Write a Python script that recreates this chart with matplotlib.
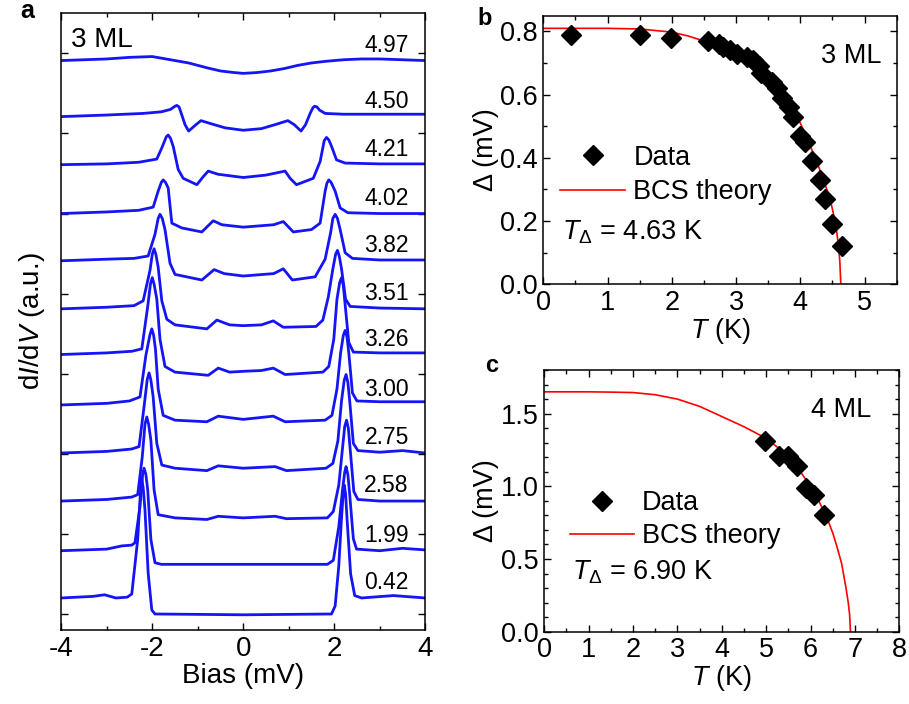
import numpy as np
import matplotlib
matplotlib.use("Agg")
import matplotlib.pyplot as plt
from matplotlib.ticker import MultipleLocator

plt.rcParams['font.family'] = ['Liberation Sans', 'DejaVu Sans']
plt.rcParams['mathtext.fontset'] = 'custom'
plt.rcParams['mathtext.rm'] = 'Liberation Sans'
plt.rcParams['mathtext.it'] = 'Liberation Sans:italic'
plt.rcParams['mathtext.bf'] = 'Liberation Sans:bold'
plt.rcParams['axes.linewidth'] = 1.1
plt.rcParams['axes.unicode_minus'] = False

# ---- panel a: dI/dV spectra of 3 ML (values relative to each curve's left baseline) ----
temps_3ml = ['4.97', '4.50', '4.21', '4.02', '3.82', '3.51', '3.26', '3.00', '2.75', '2.58', '1.99', '0.42']
offsets = [6.91, 6.21, 5.61, 5.00, 4.41, 3.81, 3.24, 2.61, 2.01, 1.41, 0.79, 0.20]

bias_497 = [-4.0, -3.5, -3.0, -2.5, -2.0, -1.5, -1.2, -0.8, -0.5, -0.2, 0.0, 0.3, 0.6, 0.9, 1.2, 1.5, 1.8, 2.2, 2.6, 3.0, 3.5, 4.0]
didv_497 = [0.0, 0.01, 0.02, 0.04, 0.05, 0.0, -0.03, -0.09, -0.13, -0.15, -0.16, -0.15, -0.13, -0.10, -0.06, -0.03, -0.01, 0.01, 0.02, 0.02, 0.01, 0.0]

bias_450 = [-4.0, -3.0, -2.2, -1.8, -1.6, -1.5, -1.46, -1.41, -1.35, -1.28, -1.2, -1.08, -0.93, -0.7, -0.4, 0.0, 0.4, 0.7, 0.98, 1.12, 1.27, 1.37, 1.47, 1.53, 1.57, 1.62, 1.68, 1.8, 2.2, 3.0, 4.0]
didv_450 = [0.0, 0.02, 0.04, 0.06, 0.09, 0.13, 0.14, 0.12, 0.02, -0.10, -0.18, -0.12, -0.05, -0.09, -0.14, -0.17, -0.15, -0.10, -0.05, -0.10, -0.18, -0.10, 0.04, 0.11, 0.13, 0.12, 0.08, 0.04, 0.03, 0.03, 0.03]

bias_421 = [-4.0, -3.0, -2.3, -1.9, -1.79, -1.69, -1.65, -1.6, -1.54, -1.43, -1.32, -1.02, -0.88, -0.77, -0.55, 0.0, 0.5, 0.92, 1.03, 1.17, 1.54, 1.69, 1.78, 1.83, 1.88, 1.94, 2.05, 2.24, 3.0, 4.0]
didv_421 = [0.0, 0.01, 0.03, 0.07, 0.21, 0.35, 0.37, 0.33, 0.23, -0.06, -0.17, -0.25, -0.15, -0.08, -0.12, -0.16, -0.13, -0.08, -0.17, -0.25, -0.17, 0.04, 0.30, 0.34, 0.31, 0.23, 0.06, 0.02, 0.01, 0.01]

bias_402 = [-4.0, -3.0, -2.3, -1.98, -1.87, -1.8, -1.76, -1.71, -1.65, -1.57, -1.35, -0.91, -0.66, -0.47, 0.0, 0.67, 0.88, 1.1, 1.5, 1.69, 1.8, 1.84, 1.88, 1.93, 2.02, 2.13, 2.3, 3.0, 4.0]
didv_402 = [0.0, 0.02, 0.04, 0.08, 0.28, 0.39, 0.42, 0.39, 0.32, -0.12, -0.18, -0.23, -0.09, -0.14, -0.17, -0.14, -0.10, -0.23, -0.20, -0.12, 0.28, 0.38, 0.42, 0.39, 0.28, 0.07, 0.01, 0.0, 0.0]

bias_382 = [-4.0, -3.0, -2.4, -2.09, -1.94, -1.87, -1.83, -1.78, -1.72, -1.61, -1.5, -0.91, -0.64, -0.42, 0.0, 0.67, 0.88, 1.08, 1.58, 1.8, 1.92, 1.97, 2.02, 2.07, 2.13, 2.24, 2.4, 3.0, 4.0]
didv_382 = [0.0, 0.02, 0.03, 0.06, 0.33, 0.53, 0.58, 0.53, 0.39, -0.03, -0.17, -0.24, -0.11, -0.16, -0.19, -0.16, -0.10, -0.24, -0.20, 0.02, 0.35, 0.53, 0.58, 0.53, 0.39, 0.10, 0.03, 0.01, 0.01]

bias_351 = [-4.0, -3.0, -2.4, -2.2, -2.05, -2.0, -1.96, -1.92, -1.87, -1.79, -1.68, -1.5, -0.8, -0.58, -0.3, 0.0, 0.4, 0.66, 0.88, 1.6, 1.75, 1.87, 1.97, 2.03, 2.07, 2.11, 2.16, 2.25, 2.35, 3.0, 4.0]
didv_351 = [0.0, 0.02, 0.04, 0.10, 0.48, 0.68, 0.75, 0.68, 0.52, 0.10, -0.13, -0.20, -0.25, -0.14, -0.20, -0.21, -0.20, -0.15, -0.23, -0.22, -0.14, 0.15, 0.50, 0.68, 0.73, 0.66, 0.50, 0.12, 0.03, 0.01, 0.0]

bias_326 = [-4.0, -3.0, -2.45, -2.23, -2.1, -2.04, -2.0, -1.96, -1.9, -1.83, -1.72, -1.5, -0.77, -0.55, -0.3, 0.0, 0.4, 0.66, 0.92, 1.75, 1.88, 1.99, 2.06, 2.12, 2.16, 2.2, 2.24, 2.32, 2.42, 3.0, 4.0]
didv_326 = [0.0, 0.02, 0.04, 0.07, 0.60, 0.88, 0.96, 0.88, 0.69, 0.19, -0.15, -0.22, -0.26, -0.17, -0.22, -0.21, -0.20, -0.17, -0.25, -0.22, -0.15, 0.19, 0.69, 0.90, 0.96, 0.86, 0.62, 0.15, 0.03, 0.02, 0.02]

bias_300 = [-4.0, -3.0, -2.5, -2.27, -2.14, -2.05, -2.01, -1.97, -1.93, -1.87, -1.76, -1.5, -0.8, -0.55, 0.0, 0.66, 0.92, 1.8, 1.95, 2.06, 2.14, 2.2, 2.24, 2.28, 2.32, 2.4, 2.5, 3.0, 4.0]
didv_300 = [0.0, 0.02, 0.05, 0.10, 0.62, 0.88, 0.95, 0.87, 0.70, 0.20, -0.13, -0.19, -0.21, -0.14, -0.18, -0.14, -0.21, -0.19, -0.13, 0.20, 0.65, 0.87, 0.93, 0.85, 0.65, 0.15, 0.05, 0.04, 0.04]

bias_275 = [-4.0, -3.0, -2.45, -2.29, -2.18, -2.11, -2.07, -2.03, -1.98, -1.9, -1.79, -1.5, -0.8, -0.55, 0.0, 0.7, 0.95, 1.82, 1.97, 2.08, 2.16, 2.22, 2.26, 2.3, 2.34, 2.42, 2.52, 3.0, 3.5, 4.0]
didv_275 = [0.0, 0.02, 0.05, 0.08, 0.58, 0.92, 1.00, 0.91, 0.70, 0.12, -0.15, -0.19, -0.22, -0.16, -0.19, -0.17, -0.22, -0.19, -0.13, 0.15, 0.65, 0.91, 0.98, 0.88, 0.65, 0.12, 0.03, 0.01, 0.03, 0.0]

bias_258 = [-4.0, -3.0, -2.45, -2.32, -2.22, -2.16, -2.12, -2.08, -2.03, -1.96, -1.87, -1.5, -0.8, -0.55, 0.0, 0.7, 0.95, 1.85, 1.98, 2.1, 2.18, 2.23, 2.27, 2.31, 2.35, 2.43, 2.52, 3.0, 4.0]
didv_258 = [0.0, 0.02, 0.05, 0.08, 0.55, 0.96, 1.05, 0.96, 0.76, 0.14, -0.17, -0.21, -0.23, -0.19, -0.21, -0.19, -0.22, -0.21, -0.13, 0.20, 0.65, 0.93, 1.01, 0.91, 0.65, 0.12, 0.02, 0.0, 0.0]

bias_199 = [-4.0, -3.0, -2.67, -2.45, -2.38, -2.27, -2.21, -2.18, -2.14, -2.1, -2.03, -1.94, -1.8, 0.0, 1.85, 1.98, 2.1, 2.18, 2.23, 2.26, 2.3, 2.34, 2.42, 2.49, 3.0, 3.5, 4.0]
didv_199 = [0.0, 0.02, 0.06, 0.07, 0.10, 0.55, 0.96, 1.03, 0.95, 0.76, 0.14, -0.15, -0.17, -0.17, -0.17, -0.12, 0.30, 0.75, 0.98, 1.05, 0.95, 0.70, 0.15, 0.02, 0.0, 0.03, 0.01]

bias_042 = [-4.0, -3.3, -3.05, -2.8, -2.55, -2.45, -2.32, -2.26, -2.23, -2.2, -2.16, -2.09, -2.01, -1.94, 0.0, 1.94, 2.02, 2.1, 2.16, 2.2, 2.22, 2.25, 2.28, 2.36, 2.45, 2.6, 3.3, 4.0]
didv_042 = [0.0, 0.02, 0.04, 0.0, 0.01, 0.05, 0.73, 1.32, 1.48, 1.38, 1.10, 0.31, -0.15, -0.20, -0.21, -0.20, -0.10, 0.40, 1.00, 1.33, 1.41, 1.30, 1.00, 0.30, 0.03, 0.0, 0.03, 0.0]

bias_all = [bias_497, bias_450, bias_421, bias_402, bias_382, bias_351,
            bias_326, bias_300, bias_275, bias_258, bias_199, bias_042]
didv_all = [didv_497, didv_450, didv_421, didv_402, didv_382, didv_351,
            didv_326, didv_300, didv_275, didv_258, didv_199, didv_042]

# ---- panel b: gap vs T, 3 ML ----
T_3ml = [0.43, 1.51, 1.99, 2.57, 2.73, 2.80, 2.91, 3.01, 3.17, 3.27, 3.35, 3.38,
         3.56, 3.64, 3.71, 3.82, 3.89, 4.00, 4.08, 4.18, 4.31, 4.39, 4.49, 4.65]
gap_3ml = [0.79, 0.79, 0.78, 0.77, 0.76, 0.75, 0.74, 0.73, 0.72, 0.71, 0.69, 0.67,
           0.64, 0.62, 0.59, 0.56, 0.53, 0.47, 0.45, 0.39, 0.33, 0.27, 0.19, 0.12]
T_bcs_3ml = [0.0, 0.5, 1.0, 1.5, 2.0, 2.25, 2.5, 2.75, 3.0, 3.2, 3.4, 3.55, 3.7, 3.85, 4.0, 4.1, 4.2, 4.28, 4.36, 4.43, 4.49, 4.54, 4.57, 4.6, 4.615, 4.63]
gap_bcs_3ml = [0.81, 0.81, 0.81, 0.808, 0.798, 0.786, 0.77, 0.75, 0.727, 0.70, 0.668, 0.636, 0.60, 0.557, 0.51, 0.465, 0.415, 0.375, 0.33, 0.29, 0.246, 0.20, 0.16, 0.11, 0.07, 0.0]

# ---- panel c: gap vs T, 4 ML ----
T_4ml = [4.97, 5.29, 5.50, 5.70, 5.89, 6.08, 6.30]
gap_4ml = [1.31, 1.21, 1.21, 1.14, 0.99, 0.94, 0.80]
T_bcs_4ml = [0.0, 1.0, 1.5, 2.0, 2.5, 3.0, 3.25, 3.5, 3.75, 4.0, 4.25, 4.5, 4.75, 5.0, 5.25, 5.5, 5.75, 6.0, 6.15, 6.3, 6.4, 6.5, 6.6, 6.7, 6.8, 6.85, 6.88, 6.9]
gap_bcs_4ml = [1.65, 1.65, 1.648, 1.645, 1.63, 1.60, 1.575, 1.55, 1.515, 1.48, 1.445, 1.41, 1.37, 1.33, 1.27, 1.21, 1.11, 1.00, 0.92, 0.83, 0.76, 0.68, 0.58, 0.47, 0.30, 0.20, 0.12, 0.0]

blue = '#1414F5'
fs = 19.5
fig = plt.figure(figsize=(9.09, 7.04), dpi=100)

# panel a
ax_a = fig.add_axes([0.0674, 0.1051, 0.4004, 0.876])
for bias, didv, off, lab in zip(bias_all, didv_all, offsets, temps_3ml):
    ax_a.plot(bias, np.array(didv) + off, color=blue, lw=2.0)
    ax_a.text(3.64, off + 0.19, lab, ha='right', va='center', fontsize=16.5)
ax_a.text(-3.78, 7.08, '3 ML', ha='left', va='baseline', fontsize=20)
ax_a.set_xlim(-4, 4)
ax_a.set_ylim(-0.2, 7.5)
ax_a.xaxis.set_major_locator(MultipleLocator(2))
ax_a.xaxis.set_minor_locator(MultipleLocator(1))
ax_a.yaxis.set_major_locator(MultipleLocator(1))
ax_a.tick_params(axis='y', labelleft=False)
ax_a.set_xlabel('Bias (mV)', fontsize=20, labelpad=1)
ax_a.set_ylabel(r'd$I$/d$V$ (a.u.)', fontsize=20, labelpad=10)

# panel b
ax_b = fig.add_axes([0.5977, 0.5962, 0.3888, 0.3815])
line_b, = ax_b.plot(T_bcs_3ml, gap_bcs_3ml, color='red', lw=1.2, zorder=2, label='BCS theory')
pts_b, = ax_b.plot(T_3ml, gap_3ml, 'D', color='black', ms=10, zorder=3, label='Data')
ax_b.set_xlim(0, 5.5)
ax_b.set_ylim(0, 0.85)
ax_b.xaxis.set_major_locator(MultipleLocator(1))
ax_b.xaxis.set_minor_locator(MultipleLocator(0.5))
ax_b.yaxis.set_major_locator(MultipleLocator(0.2))
ax_b.yaxis.set_minor_locator(MultipleLocator(0.1))
ax_b.set_xlabel(r'$T$ (K)', fontsize=fs, labelpad=0)
ax_b.set_ylabel('Δ (mV)', fontsize=fs, labelpad=1)
ax_b.legend([pts_b, line_b], ['Data', 'BCS theory'], loc='center left',
            bbox_to_anchor=(0.048, 0.407), frameon=False, fontsize=fs,
            handlelength=2.4, handletextpad=0.3, labelspacing=0.32,
            borderpad=0, borderaxespad=0, numpoints=1)
ax_b.text(0.052, 0.168, r'$T_\Delta$ = 4.63 K', transform=ax_b.transAxes,
          ha='left', va='baseline', fontsize=fs)
ax_b.text(0.958, 0.825, '3 ML', transform=ax_b.transAxes, ha='right', va='baseline', fontsize=fs)

# panel c
ax_c = fig.add_axes([0.5988, 0.1027, 0.3905, 0.3717])
line_c, = ax_c.plot(T_bcs_4ml, gap_bcs_4ml, color='red', lw=1.2, zorder=2, label='BCS theory')
pts_c, = ax_c.plot(T_4ml, gap_4ml, 'D', color='black', ms=10, zorder=3, label='Data')
ax_c.set_xlim(0, 8)
ax_c.set_ylim(0, 1.8)
ax_c.xaxis.set_major_locator(MultipleLocator(1))
ax_c.xaxis.set_minor_locator(MultipleLocator(0.5))
ax_c.yaxis.set_major_locator(MultipleLocator(0.5))
ax_c.yaxis.set_minor_locator(MultipleLocator(0.1))
ax_c.set_xlabel(r'$T$ (K)', fontsize=fs, labelpad=0)
ax_c.set_ylabel('Δ (mV)', fontsize=fs, labelpad=1)
ax_c.legend([pts_c, line_c], ['Data', 'BCS theory'], loc='center left',
            bbox_to_anchor=(0.072, 0.428), frameon=False, fontsize=fs,
            handlelength=2.35, handletextpad=0.3, labelspacing=0.27,
            borderpad=0, borderaxespad=0, numpoints=1)
ax_c.text(0.077, 0.198, r'$T_\Delta$ = 6.90 K', transform=ax_c.transAxes,
          ha='left', va='baseline', fontsize=fs)
ax_c.text(0.922, 0.819, '4 ML', transform=ax_c.transAxes, ha='right', va='baseline', fontsize=fs)

for ax in (ax_a, ax_b, ax_c):
    ax.tick_params(which='both', direction='in', top=True, right=True, width=1.0)
    ax.tick_params(which='major', length=5, labelsize=fs, pad=4)
    ax.tick_params(which='minor', length=3)
ax_a.tick_params(which='major', labelsize=20)

fig.text(0.022, 0.974, 'a', fontsize=18, fontweight='bold', va='baseline')
fig.text(0.525, 0.9645, 'b', fontsize=17, fontweight='bold', va='baseline')
fig.text(0.5335, 0.472, 'c', fontsize=17, fontweight='bold', va='baseline')

fig.savefig('out.png', dpi=100)
